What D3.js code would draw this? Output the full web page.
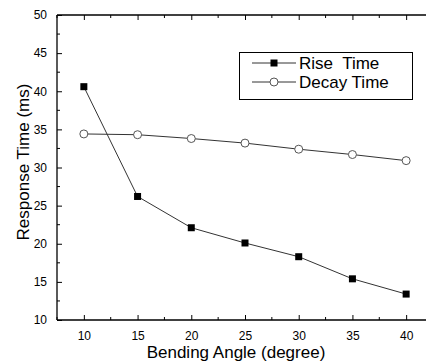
<!DOCTYPE html>
<html><head><meta charset="utf-8">
<script src="https://cdn.jsdelivr.net/npm/d3@7"></script>
<style>body{margin:0;background:#fff}svg{display:block}text{font-family:"Liberation Sans",Arial,sans-serif;fill:#000}</style>
</head><body><svg id="c" width="426" height="362"></svg>
<script>
const angles = [10, 15, 20, 25, 30, 35, 40];
const riseTime = [40.6, 26.2, 22.1, 20.1, 18.3, 15.4, 13.4];
const decayTime = [34.4, 34.3, 33.8, 33.2, 32.4, 31.7, 30.9];
const xTicks = [10, 15, 20, 25, 30, 35, 40];
const yTicks = [10, 15, 20, 25, 30, 35, 40, 45, 50];
const seriesNames = ["Rise  Time", "Decay Time"];

const svg = d3.select("#c");
const L = 57, T = 15, B = 320, R = 433;
const x = d3.scaleLinear().domain([7.5, 42.5]).range([L, R]);
const y = d3.scaleLinear().domain([10, 50]).range([B, T]);

const g = svg.append("g");
g.append("line").attr("x1", L).attr("x2", 426).attr("y1", B).attr("y2", B).attr("stroke", "#000").attr("stroke-width", 1.3);
g.append("line").attr("x1", L).attr("x2", 426).attr("y1", T).attr("y2", T).attr("stroke", "#000").attr("stroke-width", 1.3);
g.append("line").attr("x1", L).attr("x2", L).attr("y1", T).attr("y2", B).attr("stroke", "#000").attr("stroke-width", 1.3);

const xMinor = d3.range(7.5, 42.6, 2.5).filter(v => !xTicks.includes(v));
const yMinor = d3.range(10, 50.1, 2.5).filter(v => !yTicks.includes(v));

const xb = d3.axisBottom(x).tickValues(xTicks).tickSize(-5).tickPadding(11).tickFormat(d3.format("d"));
const xa = svg.append("g").attr("transform", `translate(0,${B})`).call(xb);
xa.select(".domain").remove();
xa.selectAll("text").attr("font-size", 12).attr("font-family", '"Liberation Sans",Arial,sans-serif');
xa.append("g").selectAll("line").data(xMinor).join("line")
  .attr("x1", d => x(d)).attr("x2", d => x(d)).attr("y1", 0).attr("y2", -3).attr("stroke", "#000");
const xt = d3.axisTop(x).tickValues(xTicks).tickSize(-5).tickFormat("");
const xta = svg.append("g").attr("transform", `translate(0,${T})`).call(xt);
xta.select(".domain").remove();
xta.append("g").selectAll("line").data(xMinor).join("line")
  .attr("x1", d => x(d)).attr("x2", d => x(d)).attr("y1", 0).attr("y2", 3).attr("stroke", "#000");
const yl = d3.axisLeft(y).tickValues(yTicks).tickSize(-5).tickPadding(10).tickFormat(d3.format("d"));
const ya = svg.append("g").attr("transform", `translate(${L},0)`).call(yl);
ya.select(".domain").remove();
ya.selectAll("text").attr("font-size", 12).attr("font-family", '"Liberation Sans",Arial,sans-serif');
ya.append("g").selectAll("line").data(yMinor).join("line")
  .attr("x1", 0).attr("x2", 3).attr("y1", d => y(d)).attr("y2", d => y(d)).attr("stroke", "#000");

svg.append("text").attr("x", 236).attr("y", 358).attr("text-anchor", "middle").attr("font-size", 17).text("Bending Angle (degree)");
svg.append("text").attr("transform", "translate(29,162) rotate(-90)").attr("text-anchor", "middle").attr("font-size", 17).text("Response Time (ms)");

const line = d3.line().x((d, i) => x(angles[i])).y(d => y(d));
svg.append("path").datum(decayTime).attr("d", line).attr("fill", "none").attr("stroke", "#333").attr("stroke-width", 1);
svg.append("path").datum(riseTime).attr("d", line).attr("fill", "none").attr("stroke", "#333").attr("stroke-width", 1);

svg.append("g").selectAll("circle").data(decayTime).join("circle")
  .attr("cx", (d, i) => x(angles[i])).attr("cy", d => y(d)).attr("r", 4)
  .attr("fill", "#fff").attr("stroke", "#555").attr("stroke-width", 1);
svg.append("g").selectAll("rect").data(riseTime).join("rect")
  .attr("x", (d, i) => x(angles[i]) - 3.5).attr("y", d => y(d) - 3.5).attr("width", 7).attr("height", 7)
  .attr("fill", "#000");

const lg = svg.append("g");
lg.append("rect").attr("x", 239.5).attr("y", 52.5).attr("width", 173).attr("height", 47).attr("fill", "#fff").attr("stroke", "#000").attr("stroke-width", 1);
[0, 1].forEach(i => {
  const cy = 63 + i * 19;
  lg.append("line").attr("x1", 252).attr("x2", 296).attr("y1", cy).attr("y2", cy).attr("stroke", "#333");
  if (i === 0) lg.append("rect").attr("x", 270.5).attr("y", cy - 3.5).attr("width", 7).attr("height", 7).attr("fill", "#000");
  else lg.append("circle").attr("cx", 274).attr("cy", cy).attr("r", 4).attr("fill", "#fff").attr("stroke", "#555");
  lg.append("text").attr("x", 299).attr("y", cy + 6).attr("font-size", 17).style("white-space", "pre").text(seriesNames[i]);
});
</script></body></html>
